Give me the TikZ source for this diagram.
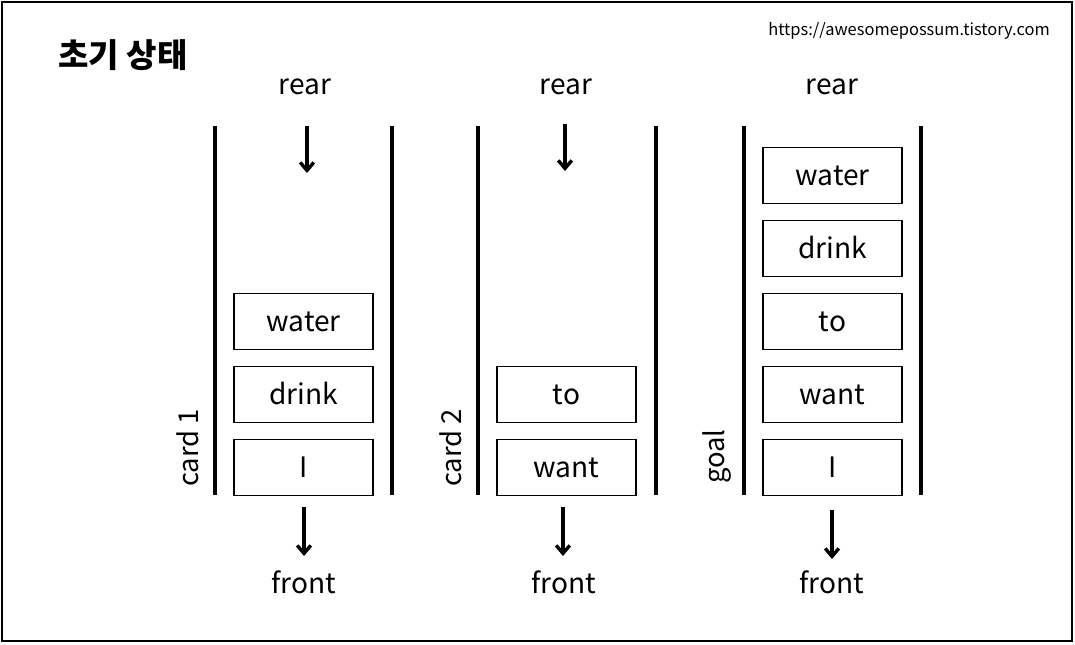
\documentclass[tikz,border=0pt]{standalone}
\usepackage{fontspec}
\setmainfont{Noto Sans CJK KR}
\usetikzlibrary{arrows.meta, positioning}
\tikzstyle{word} = [rectangle, minimum width=3.475cm, minimum height=1.4cm, text height=17pt, text depth=2.8pt, text centered, draw=black, line width=1.3pt, font=\fontsize{20}{20}\selectfont]
\tikzstyle{tag} = [font=\fontsize{20}{20}\selectfont, inner sep=0pt]
\tikzstyle{side} = [font=\fontsize{19.5}{19.5}\selectfont, inner sep=0pt, rotate=90, anchor=base west]
\tikzstyle{wall} = [line width=2.8pt]
\tikzstyle{arrow} = [line width=2.4pt,->,>={Straight Barb[length=2mm, width=3.4mm]}]

\begin{document}
\begin{tikzpicture}[x=0.025cm, y=-0.025cm, node distance=0.379cm]
        \useasboundingbox (0,0) rectangle (1075,644);
        \draw [line width=1.2pt] (2,2) rectangle (1072,641);

        % Title
        \node (title) [anchor=base west, inner sep=0pt, font=\fontsize{23.5}{23.5}\selectfont\bfseries] at (58,68) {초기 상태};
        \node (url) [anchor=base east, inner sep=0pt, font=\fontsize{11.7}{11.7}\selectfont] at (1050,36) {https://awesomepossum.tistory.com};

        % Column 1: card 1
        \draw [wall] (215,126) coordinate (c1wl) -- (215,495);
        \draw [wall] (392,126) coordinate (c1wr) -- (392,495);
        \node (c1i) [word] at (303.5,467.5) {I};
        \node (c1drink) [word, above=of c1i] {drink};
        \node (c1water) [word, above=of c1drink] {water};
        \node (c1rear) [tag, anchor=base] at (305,95) {rear};
        \node (c1front) [tag, anchor=base] at (304,593) {front};
        \node (c1name) [side] at (198,487) {card 1};
        \coordinate (c1in) at (307,126);
        \coordinate (c1intip) at (307,173);
        \coordinate (c1out) at (304,507);
        \coordinate (c1outtip) at (304,556);

        % Column 2: card 2
        \draw [wall] (478,126) coordinate (c2wl) -- (478,495);
        \draw [wall] (656,126) coordinate (c2wr) -- (656,495);
        \node (c2want) [word] at (566.5,467.5) {want};
        \node (c2to) [word, above=of c2want] {to};
        \node (c2rear) [tag, anchor=base] at (566,95) {rear};
        \node (c2front) [tag, anchor=base] at (564,593) {front};
        \node (c2name) [side] at (461,487) {card 2};
        \coordinate (c2in) at (565,124);
        \coordinate (c2intip) at (565,171);
        \coordinate (c2out) at (563,507);
        \coordinate (c2outtip) at (563,556);

        % Column 3: goal
        \draw [wall] (744,126) coordinate (c3wl) -- (744,495);
        \draw [wall] (921,126) coordinate (c3wr) -- (921,495);
        \node (c3i) [word] at (832.5,467.5) {I};
        \node (c3want) [word, above=of c3i] {want};
        \node (c3to) [word, above=of c3want] {to};
        \node (c3drink) [word, above=of c3to] {drink};
        \node (c3water) [word, above=of c3drink] {water};
        \node (c3rear) [tag, anchor=base] at (832,95) {rear};
        \node (c3front) [tag, anchor=base] at (832,593) {front};
        \node (c3name) [side] at (724,484) {goal};
        \coordinate (c3out) at (832,510);
        \coordinate (c3outtip) at (832,559);

        % Arrows
        \draw [arrow] (c1in) -- (c1intip);
        \draw [arrow] (c1out) -- (c1outtip);
        \draw [arrow] (c2in) -- (c2intip);
        \draw [arrow] (c2out) -- (c2outtip);
        \draw [arrow] (c3out) -- (c3outtip);
    \end{tikzpicture}
\end{document}
